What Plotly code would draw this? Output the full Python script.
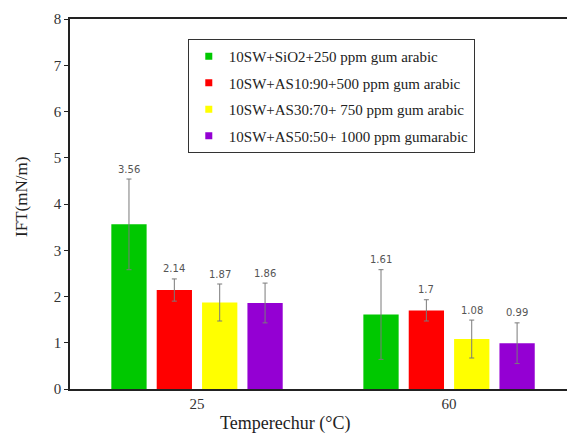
import plotly.graph_objects as go

temps = ["25", "60"]
series_names = [
    "10SW+SiO2+250 ppm gum arabic",
    "10SW+AS10:90+500 ppm gum arabic",
    "10SW+AS30:70+ 750 ppm gum arabic",
    "10SW+AS50:50+ 1000 ppm gumarabic",
]
colors = ["#00c800", "#ff0000", "#ffff00", "#9400d3"]
values = [
    [3.56, 1.61],
    [2.14, 1.70],
    [1.87, 1.08],
    [1.86, 0.99],
]
errors = [
    [0.98, 0.97],
    [0.24, 0.23],
    [0.40, 0.41],
    [0.43, 0.44],
]
label_texts = [
    ["3.56", "1.61"],
    ["2.14", "1.7"],
    ["1.87", "1.08"],
    ["1.86", "0.99"],
]

slot = 0.18
bar_w = 0.14
serif = "Liberation Serif"

fig = go.Figure()
annotations = []
for j, name in enumerate(series_names):
    xs = [i + (j - 1.5) * slot for i in range(len(temps))]
    fig.add_trace(go.Bar(
        x=xs, y=values[j], width=bar_w,
        marker=dict(color=colors[j], line=dict(width=0)),
        error_y=dict(type="data", array=errors[j], visible=True,
                     color="#7a7a7a", thickness=1, width=2.5),
        showlegend=False, name=name,
    ))
    for x, v, e, t in zip(xs, values[j], errors[j], label_texts[j]):
        annotations.append(dict(
            x=x, y=v + e, xref="x", yref="y", text=t, showarrow=False,
            yshift=10, xanchor="center", yanchor="middle",
            font=dict(family="DejaVu Sans", size=10, color="#555555"),
        ))
    fig.add_trace(go.Scatter(
        x=[None], y=[None], mode="markers", name=name,
        marker=dict(symbol="square", size=7, color=colors[j]),
        legendgroup=f"g{j}", showlegend=True,
    ))

annotations += [
    dict(text="Temperechur (°C)", xref="paper", yref="paper",
         x=0.4326, y=0, yshift=-34, xanchor="center", yanchor="middle",
         showarrow=False, font=dict(family=serif, size=18, color="#222222")),
    dict(text="IFT(mN/m)", xref="paper", yref="paper",
         x=0, xshift=-48, y=0.519, xanchor="center", yanchor="middle",
         textangle=-90, showarrow=False,
         font=dict(family=serif, size=17, color="#222222")),
]

fig.update_layout(
    width=567, height=434,
    margin=dict(l=70, r=0, t=19, b=45),
    paper_bgcolor="white", plot_bgcolor="white",
    font=dict(family=serif, size=14, color="#333333"),
    barmode="overlay",
    xaxis=dict(
        range=[-0.504, 1.468],
        tickvals=list(range(len(temps))), ticktext=temps,
        showline=True, linecolor="#222222", linewidth=1.5, mirror=True,
        ticks="", showgrid=False, zeroline=False,
        tickfont=dict(family=serif, size=15, color="#333333"),
    ),
    yaxis=dict(
        range=[0, 8], dtick=1, tick0=0,
        showline=True, linecolor="#222222", linewidth=1.5,
        ticks="outside", ticklen=4, tickcolor="#222222",
        showgrid=False, zeroline=False,
        tickfont=dict(family=serif, size=15, color="#333333"),
    ),
    legend=dict(
        x=0.237, y=0.946, xanchor="left", yanchor="top",
        bordercolor="#333333", borderwidth=1, bgcolor="white",
        font=dict(family=serif, size=15, color="#222222"),
        tracegroupgap=4, itemwidth=30,
    ),
    annotations=annotations,
)

fig.write_html("out.html")
